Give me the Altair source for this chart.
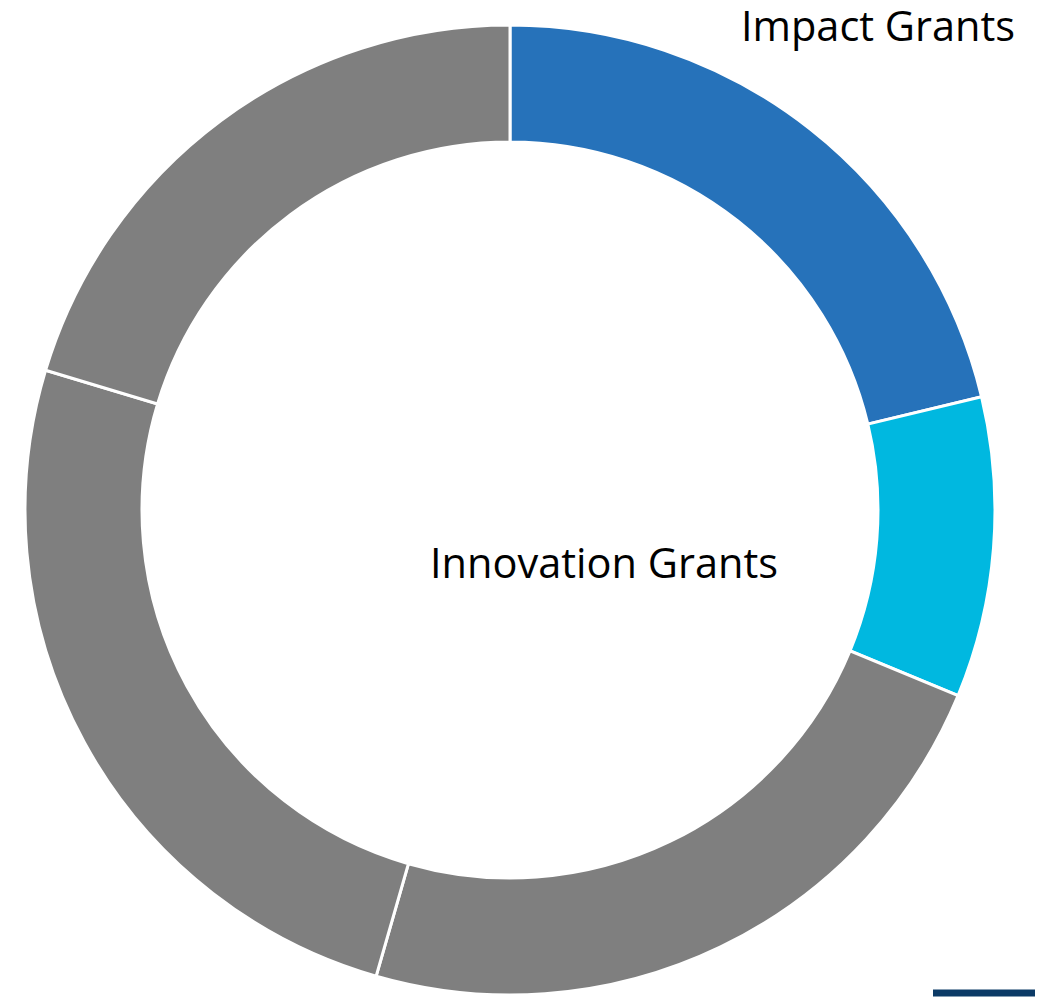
import altair as alt
import pandas as pd

categories = ["Impact Grants", "Innovation Grants", "Other 1", "Other 2", "Other 3"]
shares = [21.25, 10.0, 23.2, 25.2, 20.35]
slice_order = [1, 2, 3, 4, 5]
colors = ["#2672BA", "#00B8E0", "#7F7F7F", "#7F7F7F", "#7F7F7F"]

label_texts = ["Impact Grants", "Innovation Grants"]

df = pd.DataFrame({"category": categories, "share": shares, "order": slice_order})
lab = pd.DataFrame({"text": label_texts, "px": [870, 596], "py": [33, 570]})

W, H = 1029, 989
cx, cy = 502, 502

donut = alt.Chart(df).mark_arc(
    outerRadius=485, innerRadius=368, stroke="white", strokeWidth=3
).encode(
    theta=alt.Theta("share:Q", stack=True),
    order=alt.Order("order:Q"),
    color=alt.Color("category:N", scale=alt.Scale(domain=categories, range=colors), legend=None),
    x=alt.value(cx),
    y=alt.value(cy),
)

labels = alt.Chart(lab).mark_text(
    font="Open Sans", fontSize=41.5, color="black", align="center", baseline="alphabetic"
).encode(
    text="text:N",
    x=alt.X("px:Q", scale=None),
    y=alt.Y("py:Q", scale=None),
)

rule = alt.Chart(pd.DataFrame({"a": [0]})).mark_rule(color="#0B3A66", strokeWidth=7).encode(
    x=alt.value(925), x2=alt.value(1027), y=alt.value(985)
)

chart = alt.layer(donut, labels, rule).properties(
    width=W, height=H, padding=0, autosize=alt.AutoSizeParams(type="none")
).configure_view(stroke=None)

chart.save("out.html", embed_options={"renderer": "svg", "actions": False})
